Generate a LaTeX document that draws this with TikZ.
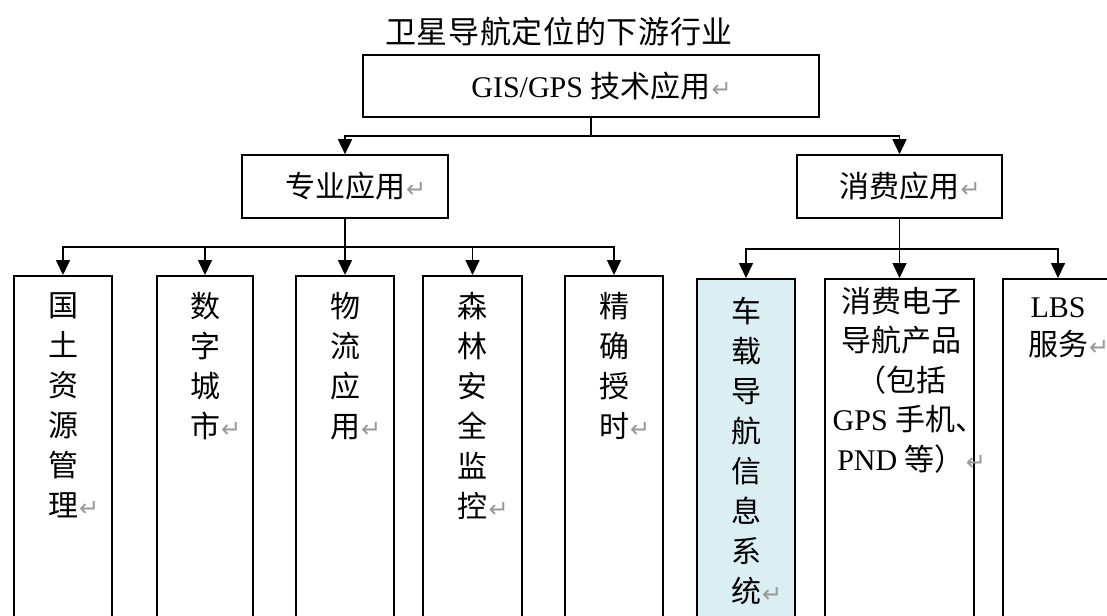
\documentclass[tikz,border=0pt]{standalone}
\usepackage{fontspec}
\setmainfont{Liberation Serif}
\newfontfamily\cjk{Noto Sans CJK SC}
\newfontfamily\symf{DejaVu Sans}
\usetikzlibrary{arrows.meta}
\definecolor{leafblue}{HTML}{DAEEF3}
\newcommand\parmark{\rlap{\kern1pt{\symf\fontsize{24}{24}\selectfont\color{black!40}↵}}}
\begin{document}
\begin{tikzpicture}[x=1pt,y=-1pt,
  box/.style={draw=black, line width=1.6pt, inner sep=0pt},
  lbl/.style={font=\cjk\fontsize{30}{40}\selectfont, align=center, inner sep=0pt},
  arr/.style={line width=1.6pt, -{Triangle[width=14pt,length=15pt]}},
  conn/.style={line width=1.6pt}]
\useasboundingbox (0,0) rectangle (1107,615);
\clip (0,0) rectangle (1107,615);
\fill[white] (0,0) rectangle (1107,615);
% title
\node[font=\cjk\fontsize{31}{31}\selectfont, inner sep=0pt] (title) at (559,31.5)
  {\makebox[348pt]{卫\hfill 星\hfill 导\hfill 航\hfill 定\hfill 位\hfill 的\hfill 下\hfill 游\hfill 行\hfill 业}};
% top box
\node[box, minimum width=456pt, minimum height=62pt, font=\fontsize{30}{30}\selectfont] (top) at (591,86)
  {GIS/GPS {\cjk 技术应用}\parmark};
% middle boxes
\node[box, lbl, minimum width=206pt, minimum height=63pt] (pro) at (345,186.5) {专业应用\parmark};
\node[box, lbl, minimum width=205pt, minimum height=63pt] (con) at (899.5,186.5) {消费应用\parmark};
% leaf boxes
\node[box, minimum width=98pt, minimum height=400pt, anchor=north] (l1) at (63,275) {};
\node[box, minimum width=96pt, minimum height=400pt, anchor=north] (l2) at (205,275) {};
\node[box, minimum width=98pt, minimum height=400pt, anchor=north] (l3) at (345,275) {};
\node[box, minimum width=99pt, minimum height=400pt, anchor=north] (l4) at (472.5,275) {};
\node[box, minimum width=98pt, minimum height=400pt, anchor=north] (l5) at (614,275) {};
\node[box, fill=leafblue, minimum width=98pt, minimum height=400pt, anchor=north] (l6) at (746,278) {};
\node[box, minimum width=149pt, minimum height=400pt, anchor=north] (l7) at (899.5,278) {};
\node[box, minimum width=110pt, minimum height=400pt, anchor=north] (l8) at (1058,278) {};
% leaf texts
\node[lbl, anchor=north] (t1) at (63,292) {国\\土\\资\\源\\管\\理\parmark};
\node[lbl, anchor=north] (t2) at (205,292) {数\\字\\城\\市\parmark};
\node[lbl, anchor=north] (t3) at (345,292) {物\\流\\应\\用\parmark};
\node[lbl, anchor=north] (t4) at (472.5,292) {森\\林\\安\\全\\监\\控\parmark};
\node[lbl, anchor=north] (t5) at (614,292) {精\\确\\授\\时\parmark};
\node[lbl, anchor=north] (t6) at (746,297) {车\\载\\导\\航\\信\\息\\系\\统\parmark};
\node[lbl, anchor=north, font=\cjk\fontsize{30}{39.5}\selectfont] (t7) at (901,287)
  {消费电子\\导航产品\\（包括\\\kern16pt{\rmfamily GPS }手机、\\{\rmfamily PND }等）\parmark};
\node[lbl, anchor=north, font=\cjk\fontsize{30}{38}\selectfont] (t8) at (1058,297)
  {{\rmfamily LBS}\\服务\parmark};
% connectors
\coordinate (h1) at (591,136);
\coordinate (h2) at (345,247);
\coordinate (h3) at (899.5,249);
\draw[conn] (top.south) -- (h1);
\draw[arr] (h1) -| (pro.north);
\draw[arr] (h1) -| (con.north);
\draw[conn] (pro.south) -- (h2);
\foreach \n in {l1,l2,l3,l4,l5} \draw[arr] (h2) -| (\n.north);
\draw[conn] (con.south) -- (h3);
\foreach \n in {l6,l7,l8} \draw[arr] (h3) -| (\n.north);
\end{tikzpicture}
\end{document}
